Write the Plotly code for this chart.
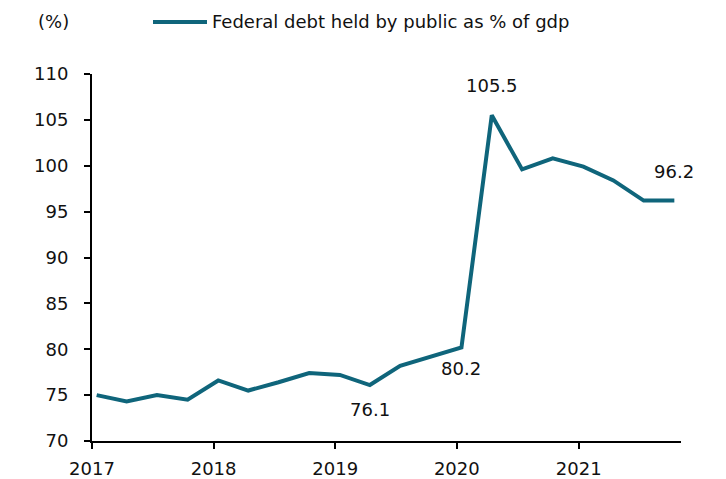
import plotly.graph_objects as go

# Quarterly federal debt held by the public, % of GDP
quarters = [
    "2017-01-15", "2017-04-15", "2017-07-15", "2017-10-15",
    "2018-01-15", "2018-04-15", "2018-07-15", "2018-10-15",
    "2019-01-15", "2019-04-15", "2019-07-15", "2019-10-15",
    "2020-01-15", "2020-04-15", "2020-07-15", "2020-10-15",
    "2021-01-15", "2021-04-15", "2021-07-15", "2021-10-15",
]
debt_pct_gdp = [
    75.0, 74.3, 75.0, 74.5,
    76.6, 75.5, 76.4, 77.4,
    77.2, 76.1, 78.2, 79.2,
    80.2, 105.5, 99.6, 100.8,
    99.9, 98.4, 96.2, 96.2,
]
series_name = "Federal debt held by public as % of gdp"
y_ticks = [70, 75, 80, 85, 90, 95, 100, 105, 110]

# points that carry a value label: (index, vertical offset in px)
labelled = [(9, -24), (12, -21), (13, 30), (19, 29)]

LINE_COLOR = "#0F657B"
TEXT_COLOR = "#111111"
FONT = "DejaVu Sans, Arial, sans-serif"
FS = 18

W, H = 726, 479
ML, MR, MT, MB = 92, 45, 74, 38

fig = go.Figure()
fig.add_trace(go.Scatter(
    x=quarters, y=debt_pct_gdp, mode="lines", name=series_name,
    line=dict(color=LINE_COLOR, width=4), showlegend=False,
))

for i, dy in labelled:
    fig.add_annotation(
        x=quarters[i], y=debt_pct_gdp[i], text=f"{debt_pct_gdp[i]:.1f}",
        showarrow=False, yshift=dy, font=dict(size=FS, color=TEXT_COLOR),
    )

# header items positioned in pixels, converted to paper coordinates
pw, ph = W - ML - MR, H - MT - MB
def px(x):
    return (x - ML) / pw
def py(y):
    return (H - MB - y) / ph

fig.add_annotation(x=px(53), y=py(22), xref="paper", yref="paper",
                   text="(%)", showarrow=False,
                   xanchor="center", yanchor="middle",
                   font=dict(size=FS, color=TEXT_COLOR))
fig.add_shape(type="line", xref="paper", yref="paper",
              x0=px(153), x1=px(207), y0=py(22), y1=py(22),
              line=dict(color=LINE_COLOR, width=4))
fig.add_annotation(x=px(210), y=py(22), xref="paper", yref="paper",
                   text=series_name, showarrow=False,
                   xanchor="left", yanchor="middle",
                   font=dict(size=FS, color=TEXT_COLOR))

axis_style = dict(
    showgrid=False, zeroline=False, automargin=False,
    showline=True, linecolor="black", linewidth=2,
    ticks="outside", ticklen=6, tickwidth=2, tickcolor="black",
)

fig.update_layout(
    width=W, height=H,
    margin=dict(l=ML, r=MR, t=MT, b=MB),
    paper_bgcolor="white", plot_bgcolor="white",
    font=dict(family=FONT, size=FS, color=TEXT_COLOR),
    xaxis=dict(
        type="date", range=["2017-01-01", "2021-11-04"],
        tick0="2017-01-01", dtick="M12", tickformat="%Y",
        ticklabelstandoff=4, **axis_style,
    ),
    yaxis=dict(
        range=[70, 110], tickvals=y_ticks,
        ticklabelstandoff=12, **axis_style,
    ),
)

fig.write_html("out.html")
